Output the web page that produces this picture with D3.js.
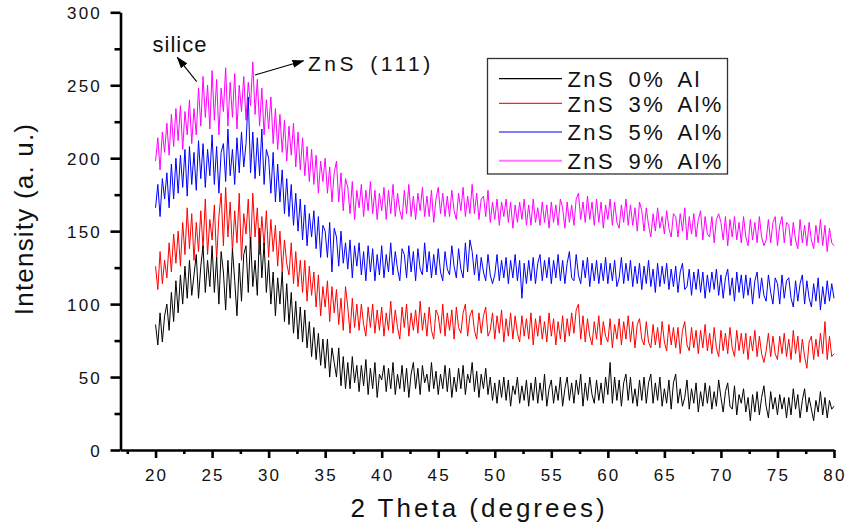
<!DOCTYPE html>
<html>
<head>
<meta charset="utf-8">
<script src="https://cdn.jsdelivr.net/npm/d3@7"></script>
<style>
  html, body { margin: 0; padding: 0; background: #fff; }
  svg { display: block; font-family: "Liberation Sans", Arial, sans-serif; }
</style>
</head>
<body>
<svg id="chart" width="846" height="526"></svg>
<script>
// XRD scans of ZnS films, 2θ from 20° to 80° sampled every 0.2°
const thetaStart = 20;
const thetaStep = 0.2;

const seriesNames = ["ZnS 0% Al", "ZnS 3% Al%", "ZnS 5% Al%", "ZnS 9% Al%"];
const seriesColors = ["#000000", "#ff0000", "#0000ff", "#ff00ff"];
const legendColors = ["#000000", "#ff2020", "#0000ff", "#ff77ff"];

const xMajorTicks = [20, 25, 30, 35, 40, 45, 50, 55, 60, 65, 70, 75, 80];
const xMinorTicks = [17.5, 22.5, 27.5, 32.5, 37.5, 42.5, 47.5, 52.5, 57.5, 62.5, 67.5, 72.5, 77.5];
const yMajorTicks = [0, 50, 100, 150, 200, 250, 300];
const yMinorTicks = [25, 75, 125, 175, 225, 275];

const zns0 = [
  86,72,94,74,92, 100,82,108,88,116, 94,120,100,126,104, 130,106,120,134,104,
  126,140,108,130,112, 140,108,132,100,136, 122,96,130,104,138, 116,92,128,102,134,
  140,108,146,112,130, 106,152,118,142,108, 130,100,122,92,118, 100,122,88,114,86,
  108,80,102,76,98, 74,96,70,88,64, 84,62,80,58,76, 56,76,50,70,60,
  50,70,44,64,42, 60,42,64,46,58, 40,58,44,62,38, 56,42,60,36,52,
  48,58,40,56,42, 60,38,52,42,58, 40,56,36,52,60, 42,56,38,58,46,
  52,40,60,42,54, 38,52,42,58,40, 56,36,50,40,56, 42,58,38,52,46,
  60,40,54,36,52, 42,56,38,50,34, 46,32,48,36,50, 34,48,30,44,38,
  50,32,44,34,48, 30,46,34,50,32, 46,34,52,30,42, 48,32,44,34,50,
  30,42,50,34,46, 32,48,38,52,30, 46,34,50,38,32, 48,34,46,32,50,
  38,60,32,50,34, 48,30,46,52,34, 50,32,42,30,48, 34,50,32,46,52,
  32,46,34,50,30, 42,32,48,28,46, 52,32,42,30,36, 48,28,42,32,46,
  26,40,30,46,32, 44,28,40,30,48, 36,26,40,46,30, 28,44,24,38,32,
  42,26,36,20,38, 26,40,24,36,44, 30,22,40,28,36, 24,38,28,36,22,
  36,24,42,28,38, 22,34,42,26,36, 28,20,34,26,40, 24,36,22,34,28,
  30
];

const zns3 = [
  126,110,136,114,130, 118,142,122,148,128, 150,126,156,134,166, 138,162,130,156,136,
  164,138,172,134,158, 144,168,130,160,176, 140,180,146,170,136, 164,142,176,130,162,
  148,172,138,176,146, 166,134,160,140,164, 132,158,136,154,126, 150,122,144,128,120,
  142,114,136,112,130, 108,130,102,126,106, 122,98,120,92,112, 98,116,88,112,94,
  110,86,104,82,112, 98,80,104,84,100, 82,100,86,78,98, 84,100,80,96,82,
  98,78,94,82,102, 80,96,84,76,98, 84,100,78,94,82, 96,80,102,82,94,
  78,98,82,76,96, 92,80,100,78,94, 82,96,76,98,84, 80,94,100,78,92,
  96,82,76,94,80, 92,98,78,82,94, 76,92,80,96,74, 90,78,94,76,92,
  80,74,92,78,90, 76,94,72,90,78, 92,76,88,74,94, 78,90,72,88,76,
  92,74,90,78,94, 80,96,100,76,92, 74,90,78,72,88, 76,92,72,88,78,
  74,90,70,86,76, 90,72,88,76,92, 74,88,70,86,90, 76,72,88,74,70,
  86,72,84,70,88, 74,68,86,72,84, 70,84,66,82,88, 72,68,84,70,82,
  66,82,70,86,68, 80,66,84,70,64, 82,68,80,66,84, 70,64,82,68,80,
  66,80,62,78,68, 82,64,78,66,60, 68,80,64,78,66, 62,78,66,80,64,
  76,62,82,66,78, 60,76,64,56,74, 78,62,76,64,80, 66,88,62,78,64,
  66
];

const zns5 = [
  166,182,160,186,172, 190,166,196,172,200, 176,202,180,206,174, 208,182,204,178,212,
  186,210,180,206,188, 216,182,208,176,204, 210,184,220,188,206, 182,214,190,218,194,
  210,242,190,218,186, 214,188,220,182,206, 200,176,204,170,196, 170,192,162,186,160,
  182,154,176,150,172, 144,168,140,162,146, 164,138,160,132,154, 150,132,156,122,152,
  146,126,150,128,142, 124,144,118,140,126, 142,120,136,116,140, 122,138,116,134,120,
  140,118,134,122,142, 120,136,124,116,138, 134,118,140,122,136, 116,138,124,120,142,
  122,136,118,134,120, 138,122,116,136,124, 120,140,126,118,138, 124,118,142,122,144,
  136,120,134,116,132, 122,116,134,120,114, 120,134,116,130,118, 132,114,130,118,134,
  116,130,104,128,114, 130,116,132,114,128, 134,116,130,118,132, 114,130,118,134,116,
  130,114,128,136,118, 116,134,120,114,130, 118,132,112,128,116, 130,114,128,116,132,
  114,128,116,130,112, 118,132,114,128,116, 130,112,126,114,128, 110,126,114,130,112,
  124,108,128,112,126, 114,128,110,124,112, 126,108,122,128,110, 112,124,106,122,110,
  124,108,122,104,120, 108,122,110,124,106, 120,104,118,124,106, 118,102,122,108,120,
  104,120,106,118,100, 116,122,104,118,106, 102,120,108,100,118, 114,100,120,104,116,
  118,104,98,116,102, 114,120,100,116,104, 98,114,102,118,96, 112,100,116,102,114,
  104
];

const zns9 = [
  198,214,192,218,204, 224,202,230,208,234, 212,236,206,232,216, 240,210,234,216,248,
  222,256,228,250,220, 260,226,254,216,248, 232,262,222,252,228, 258,220,250,232,256,
  226,252,236,266,230, 254,222,248,216,240, 220,242,210,234,206, 230,204,226,198,222,
  202,224,194,218,192, 214,188,208,184,206, 182,202,176,198,184, 200,176,194,170,190,
  198,170,190,164,186, 180,162,184,158,178, 166,182,160,178,164, 184,162,178,158,176,
  164,180,158,178,162, 182,160,176,164,158, 178,162,182,160,174, 158,176,164,180,160,
  174,160,178,156,172, 180,162,176,160,174, 160,178,164,158,176, 164,180,160,174,162,
  182,162,176,158,172, 174,160,178,156,170, 158,172,154,170,160, 172,156,170,152,168,
  156,170,158,172,154, 168,154,172,156,166, 154,170,156,168,152, 170,156,168,154,172,
  166,152,170,156,168, 154,172,176,158,170, 156,174,158,170,154, 172,156,170,152,168,
  158,172,154,170,156, 152,168,156,172,154, 168,154,166,150,170, 164,150,166,154,146,
  162,150,166,152,160, 148,164,152,146,162, 160,146,162,150,166, 144,160,148,162,146,
  158,164,144,160,148, 146,160,142,158,162, 156,144,160,140,158, 146,160,144,156,142,
  160,146,140,158,144, 156,142,160,146,140, 144,158,142,156,160, 140,154,160,142,156,
  154,140,156,144,138, 158,142,154,140,156, 144,138,154,142,158, 140,154,136,152,142,
  140
];

const seriesValues = [zns0, zns3, zns5, zns9];

const svg = d3.select("#chart");
const FONT = '"Liberation Sans", Arial, sans-serif';

const x = d3.scaleLinear().domain([16.9, 80]).range([120.5, 834]);
const y = d3.scaleLinear().domain([0, 300]).range([450, 12.3]);

// traces: 9% first so the lower curves sit on top
const line = d3.line()
  .x((d, i) => x(thetaStart + i * thetaStep))
  .y(d => y(d));

const traces = svg.append("g").attr("class", "traces");
[3, 2, 1, 0].forEach(k => {
  traces.append("path")
    .datum(seriesValues[k])
    .attr("fill", "none")
    .attr("stroke", seriesColors[k])
    .attr("stroke-width", 1)
    .attr("stroke-linejoin", "miter")
    .attr("d", line);
});

// axes
const axisWidth = 2.6;
const xAxis = svg.append("g").attr("transform", "translate(0,450)")
  .call(d3.axisBottom(x).tickValues(xMajorTicks).tickSize(8).tickSizeOuter(0).tickFormat(""));
const xMinor = svg.append("g").attr("transform", "translate(0,450)")
  .call(d3.axisBottom(x).tickValues(xMinorTicks).tickSize(4).tickSizeOuter(0).tickFormat(""));
const yAxis = svg.append("g").attr("transform", "translate(120.5,0)")
  .call(d3.axisLeft(y).tickValues(yMajorTicks).tickSize(10).tickSizeOuter(0).tickFormat(""));
const yMinor = svg.append("g").attr("transform", "translate(120.5,0)")
  .call(d3.axisLeft(y).tickValues(yMinorTicks).tickSize(6).tickSizeOuter(0).tickFormat(""));
[xAxis, xMinor, yAxis, yMinor].forEach(g => {
  g.selectAll("path.domain").attr("stroke", "#000").attr("stroke-width", axisWidth);
  g.selectAll(".tick line").attr("stroke", "#000").attr("stroke-width", axisWidth);
});
xMinor.select("path.domain").remove();
yMinor.select("path.domain").remove();

// tick labels
svg.append("g").selectAll("text").data(xMajorTicks).join("text")
  .attr("x", d => x(d) + 1)
  .attr("y", 480.5)
  .attr("text-anchor", "middle")
  .attr("font-family", FONT)
  .attr("font-size", 17)
  .attr("letter-spacing", 2.2)
  .attr("fill", "#111")
  .text(d => d);

svg.append("g").selectAll("text").data(yMajorTicks).join("text")
  .attr("x", 102)
  .attr("y", d => y(d) + 6.5)
  .attr("text-anchor", "end")
  .attr("font-family", FONT)
  .attr("font-size", 17)
  .attr("letter-spacing", 2.2)
  .attr("fill", "#111")
  .text(d => d);

// axis titles
svg.append("text")
  .attr("x", 479)
  .attr("y", 517)
  .attr("text-anchor", "middle")
  .attr("font-family", FONT)
  .attr("font-size", 26)
  .attr("letter-spacing", 3)
  .attr("fill", "#111")
  .text("2 Theta (degrees)");

svg.append("text")
  .attr("transform", "translate(33,219) rotate(-90)")
  .attr("text-anchor", "middle")
  .attr("font-family", FONT)
  .attr("font-size", 26)
  .attr("letter-spacing", 1.2)
  .attr("fill", "#111")
  .text("Intensity (a. u.)");

// legend
const legend = svg.append("g");
legend.append("rect")
  .attr("x", 487.5).attr("y", 58.5)
  .attr("width", 240).attr("height", 115.5)
  .attr("fill", "#fff")
  .attr("stroke", "#333")
  .attr("stroke-width", 1.3);
const legendLineY = [78.7, 103.3, 132, 160.7];
const legendTextY = [87, 112, 140.3, 168.6];
seriesNames.forEach((name, k) => {
  legend.append("line")
    .attr("x1", 499).attr("x2", 562)
    .attr("y1", legendLineY[k]).attr("y2", legendLineY[k])
    .attr("stroke", legendColors[k])
    .attr("stroke-width", k === 3 ? 2 : 1.2);
  legend.append("text")
    .attr("x", 567.5)
    .attr("y", legendTextY[k])
    .attr("font-family", FONT)
    .attr("font-size", 22)
    .attr("letter-spacing", 2.4)
    .attr("word-spacing", 5)
    .attr("fill", "#111")
    .text(name);
});

// annotations
const defs = svg.append("defs");
defs.append("marker")
  .attr("id", "arrowHead")
  .attr("viewBox", "0 0 12 8")
  .attr("refX", 11).attr("refY", 4)
  .attr("markerWidth", 12).attr("markerHeight", 8)
  .attr("markerUnits", "userSpaceOnUse")
  .attr("orient", "auto")
  .append("path")
  .attr("d", "M0,0 L12,4 L0,8 Z")
  .attr("fill", "#000");

svg.append("line")
  .attr("x1", 196.7).attr("y1", 81.7)
  .attr("x2", 177.3).attr("y2", 57.3)
  .attr("stroke", "#000").attr("stroke-width", 1.1)
  .attr("marker-end", "url(#arrowHead)");
svg.append("line")
  .attr("x1", 255).attr("y1", 75)
  .attr("x2", 303.5).attr("y2", 60.7)
  .attr("stroke", "#000").attr("stroke-width", 1.1)
  .attr("marker-end", "url(#arrowHead)");

svg.append("text")
  .attr("x", 152.5).attr("y", 51.7)
  .attr("font-family", FONT)
  .attr("font-size", 22)
  .attr("letter-spacing", 1)
  .attr("fill", "#111")
  .text("silice");

svg.append("text")
  .attr("x", 308).attr("y", 70.5)
  .attr("font-family", FONT)
  .attr("font-size", 21)
  .attr("letter-spacing", 3.5)
  .attr("word-spacing", 4)
  .attr("fill", "#111")
  .text("ZnS (111)");
</script>
</body>
</html>
